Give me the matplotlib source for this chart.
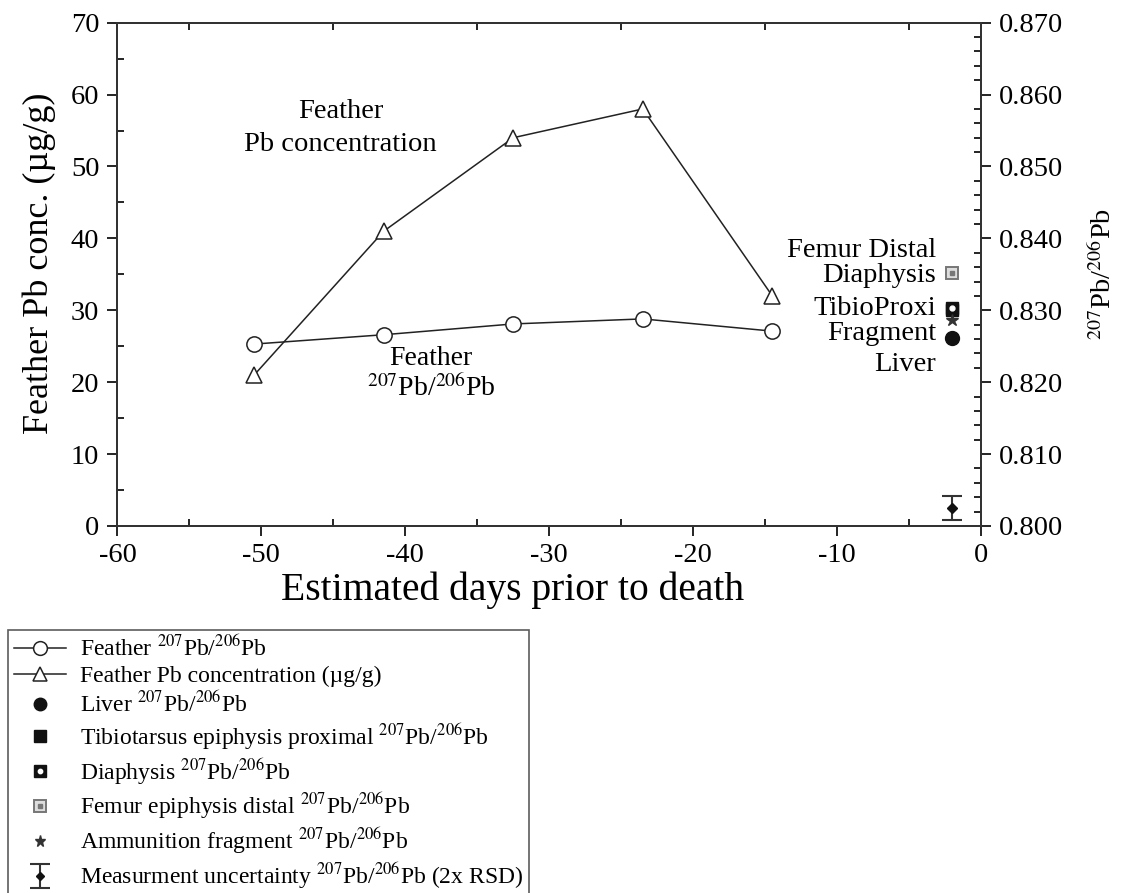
import numpy as np
import matplotlib
matplotlib.use("Agg")
import matplotlib.pyplot as plt
from matplotlib.ticker import MultipleLocator, FormatStrFormatter
from matplotlib.legend_handler import HandlerTuple

plt.rcParams["font.family"] = ["Liberation Serif", "DejaVu Serif"]
plt.rcParams["mathtext.fontset"] = "stix"
plt.rcParams["axes.unicode_minus"] = False

# ── Daten ──────────────────────────────────────────────────────────
days = [-50.5, -41.5, -32.5, -23.5, -14.5]
feather_conc = [21.0, 41.0, 54.0, 58.0, 32.0]          # µg/g
feather_ratio = [0.8253, 0.8266, 0.8281, 0.8288, 0.8271]

tissue_day = -2.0
liver_ratio = 0.8261
tibio_ratio = 0.8300
diaphysis_ratio = 0.8303
femur_ratio = 0.8352
fragment_ratio = 0.8286

unc_ratio = 0.8025
unc_err = 0.0017

RATIO = r"$^{207}$Pb/$^{206}$Pb"

fig = plt.figure(figsize=(11.22, 8.93), dpi=100, facecolor="white")
ax = fig.add_axes([0.1047, 0.411, 0.7696, 0.5636])
ax2 = ax.twinx()

# ── Linien ─────────────────────────────────────────────────────────
l_conc, = ax.plot(days, feather_conc, "-", color="#222222", lw=1.1,
                  marker="^", ms=11, mfc="white", mec="#222222", mew=1.1,
                  zorder=3)
l_ratio, = ax2.plot(days, feather_ratio, "-", color="#222222", lw=1.1,
                    marker="o", ms=11, mfc="white", mec="#222222", mew=1.1,
                    zorder=3)

# ── Gewebe-Punkte ──────────────────────────────────────────────────
h_fem_a, = ax2.plot([tissue_day], [femur_ratio], "s", ms=9, mfc="#dddddd",
                    mec="#777777", mew=1.4)
h_fem_b, = ax2.plot([tissue_day], [femur_ratio], "s", ms=2.5, mfc="#777777",
                    mec="#777777")
h_tib, = ax2.plot([tissue_day], [tibio_ratio], "s", ms=9, color="#111111")
h_dia_a, = ax2.plot([tissue_day], [diaphysis_ratio], "s", ms=9,
                    color="#111111")
h_dia_b, = ax2.plot([tissue_day], [diaphysis_ratio], "o", ms=3.5,
                    color="white")
h_frag, = ax2.plot([tissue_day], [fragment_ratio], "*", ms=9,
                   color="#333333")
h_liv, = ax2.plot([tissue_day], [liver_ratio], "o", ms=10, color="#111111")
h_err = ax2.errorbar([tissue_day], [unc_ratio], yerr=[unc_err], fmt="D",
                     ms=5, color="#111111", ecolor="#333333", elinewidth=1.5,
                     capsize=7, capthick=1.5)

# ── Achsen ─────────────────────────────────────────────────────────
ax.set_xlim(-60, 0)
ax.set_ylim(0, 70)
ax2.set_ylim(0.800, 0.870)

ax.xaxis.set_major_locator(MultipleLocator(10))
ax.xaxis.set_minor_locator(MultipleLocator(5))
ax.yaxis.set_major_locator(MultipleLocator(10))
ax.yaxis.set_minor_locator(MultipleLocator(5))
ax2.yaxis.set_major_locator(MultipleLocator(0.010))
ax2.yaxis.set_minor_locator(MultipleLocator(0.002))
ax2.yaxis.set_major_formatter(FormatStrFormatter("%.3f"))

ax.tick_params(axis="x", which="major", direction="out", length=7, width=1.2,
               bottom=True, top=False, labelsize=20.5, pad=5)
ax.tick_params(axis="x", which="minor", direction="in", length=5, width=1.2,
               bottom=True, top=True)
ax.tick_params(axis="y", which="major", direction="out", length=7, width=1.2,
               left=True, right=False, labelsize=20.5, pad=6)
ax.tick_params(axis="y", which="minor", direction="in", length=5, width=1.2,
               left=True, right=False)
ax2.tick_params(axis="y", which="major", direction="out", length=7, width=1.2,
                right=True, left=False, labelsize=20.5, pad=6)
ax2.tick_params(axis="y", which="minor", direction="in", length=5, width=1.2,
                right=True, left=False)

for a in (ax, ax2):
    for sp in a.spines.values():
        sp.set_linewidth(1.4)
        sp.set_color("#333333")

ax.set_xlabel("Estimated days prior to death", fontsize=28.5)
ax.xaxis.set_label_coords(0.458, -0.09)
ax.set_ylabel("Feather Pb conc. (µg/g)", fontsize=26)
ax.yaxis.set_label_coords(-0.071, 0.522)
ax2.set_ylabel(RATIO, fontsize=20.5, labelpad=19)

# ── Beschriftungen im Plot ─────────────────────────────────────────
ax.text(-44.5, 55.3, "Feather\nPb concentration", ha="center", va="center",
        fontsize=20.5, linespacing=1.42)
ax.text(-38.2, 21.2, "Feather\n" + RATIO, ha="center", va="center",
        fontsize=20, linespacing=1.15)
ax.text(-3.1, 38.3, "Femur Distal", ha="right", va="center", fontsize=20.5)
ax.text(-3.1, 34.8, "Diaphysis", ha="right", va="center", fontsize=20.5)
ax.text(-3.1, 30.3, "TibioProxi", ha="right", va="center", fontsize=20.5)
ax.text(-3.1, 26.8, "Fragment", ha="right", va="center", fontsize=20.5)
ax.text(-3.1, 22.5, "Liver", ha="right", va="center", fontsize=20.5)

# ── Legende ────────────────────────────────────────────────────────
handles = [l_ratio, l_conc, h_liv, h_tib, (h_dia_a, h_dia_b),
           (h_fem_a, h_fem_b), h_frag, h_err]
labels = ["Feather " + RATIO,
          "Feather Pb concentration (µg/g)",
          "Liver " + RATIO,
          "Tibiotarsus epiphysis proximal " + RATIO,
          "Diaphysis " + RATIO,
          "Femur epiphysis distal " + RATIO,
          "Ammunition fragment " + RATIO,
          "Measurment uncertainty " + RATIO + " (2x RSD)"]
leg = fig.legend(handles, labels, loc="upper left",
                 bbox_to_anchor=(0.007, 0.295), bbox_transform=fig.transFigure,
                 borderaxespad=0, fontsize=17, frameon=True, fancybox=False,
                 edgecolor="#333333", handlelength=2.2, handletextpad=0.6,
                 labelspacing=0.19, borderpad=0.25, markerscale=0.9,
                 handler_map={tuple: HandlerTuple(ndivide=1)})
leg.get_frame().set_linewidth(1.2)

fig.savefig("out.png", dpi=100, facecolor="white")
plt.close(fig)
